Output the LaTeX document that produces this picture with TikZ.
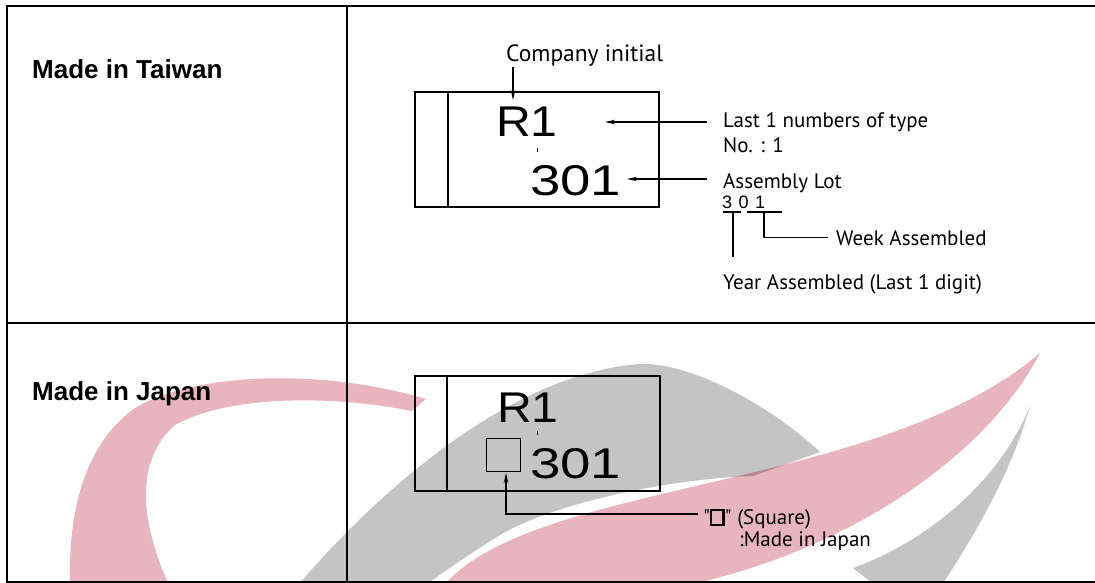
\documentclass[tikz,border=0pt]{standalone}
\usepackage{fontspec}
\setmainfont{Liberation Sans}
\newfontfamily\annfont{PT Sans}
\newfontfamily\chipfontR[FakeStretch=1.12]{Liberation Sans}
\newfontfamily\chipfontN[FakeStretch=1.27]{Liberation Sans}
\usetikzlibrary{arrows.meta}
\definecolor{wmpink}{HTML}{E8B4BE}
\definecolor{wmgray}{HTML}{C4C4C4}
\begin{document}
\begin{tikzpicture}[x=1pt,y=-1pt,
  tline/.style={line width=2pt},
  chipbox/.style={draw,line width=2pt,inner sep=0pt},
  ann/.style={font=\annfont\fontsize{21}{25}\selectfont,inner sep=0pt,anchor=base west},
  head/.style={font=\bfseries\fontsize{26}{30}\selectfont,inner sep=0pt,anchor=base west},
  chipR/.style={font=\chipfontR\fontsize{43}{50}\selectfont,inner sep=0pt,anchor=base west},
  chipN/.style={font=\chipfontN\fontsize{43}{50}\selectfont,inner sep=0pt,anchor=base west},
  conn/.style={line width=1.1pt},
  arr/.style={conn,-{Stealth[length=10pt,width=4.5pt]}},
]
\useasboundingbox (0,0) rectangle (1095,583);
% table
\draw[tline] (1095,5.7) -- (7,5.7) -- (7,582) -- (1095,582);
\draw[tline] (347,5.7) -- (347,582);
\draw[tline] (7,322.7) -- (1095,322.7);
\node[head] (tw) at (32,79) {Made in Taiwan};
\node[head] (jp) at (32,400) {Made in Japan};
% Taiwan chip
\node[chipbox,minimum width=244pt,minimum height=115pt] (chipA) at (537,149.5) {};
\draw[line width=2pt] ([xshift=34pt]chipA.north west) -- ([xshift=34pt]chipA.south west);
\node[chipR] (rA) at (496,137) {R1};
\node[chipN] (nA) at (530,195) {301};
\draw[line width=0.8pt] (537,148) -- (537,152);
\node[ann,font=\annfont\fontsize{23.5}{27}\selectfont] (ci) at (506,62) {Company initial};
\coordinate (ciTip) at (513,100);
\draw[arr] (ci.south -| ciTip) -- (ciTip);
\node[ann] (l1) at (723,128) {Last 1 numbers of type};
\node[ann] (l1b) at (723,153) {No. : 1};
\coordinate (a1s) at (707,122);
\coordinate (a1t) at (605,122);
\draw[arr] (a1s) -- (a1t);
\node[ann] (al) at (723,188) {Assembly Lot};
\coordinate (a2s) at (707,179);
\coordinate (a2t) at (627,179);
\draw[arr] (a2s) -- (a2t);
\node[inner sep=0pt,anchor=base west,font=\fontsize{18}{20}\selectfont] (lot) at (722,208) {3\hspace{6.5pt}0\hspace{6.5pt}1};
\draw[conn] (723,212) -- (741,212);
\draw[conn] (747,212) -- (782,212);
\node[ann] (wk) at (836,245) {Week Assembled};
\node[ann] (yr) at (723,289.5) {Year Assembled (Last 1 digit)};
\coordinate (yTop) at (733,212);
\coordinate (yBot) at (733,257);
\coordinate (wTop) at (764,212);
\draw[conn] (yTop) -- (yBot);
\draw[conn] (wTop) |- ([xshift=-8pt]wk.west);
% Japan chip
\node[chipbox,minimum width=245pt,minimum height=115pt] (chipB) at (537.5,433.5) {};
\draw[line width=2pt] ([xshift=33pt]chipB.north west) -- ([xshift=33pt]chipB.south west);
\node[chipR] (rB) at (497,422) {R1};
\node[chipN] (nB) at (530,478) {301};
\draw[line width=0.8pt] (537,431) -- (537,435);
\node[draw,line width=1.8pt,minimum width=34pt,minimum height=33pt,inner sep=0pt] (sq) at (503.5,455) {};
\node[ann] (sqlbl) at (703,524) {"\setlength{\fboxrule}{2.2pt}\setlength{\fboxsep}{0pt}\fbox{\rule{0pt}{13pt}\hspace{10pt}}" (Square)};
\node[ann] (mij) at (739,546) {:Made in Japan};
\coordinate (sqs) at (698,514);
\coordinate (sqTip) at (506,473);
\draw[arr] (sqs) -| (sqTip);
% watermark
\begin{scope}[blend mode=multiply]
\fill[wmpink] (426,399) .. controls (330,370) and (200,370) .. (135,408) .. controls (90,440) and (68,500) .. (70,583) -- (168,583) .. controls (140,520) and (135,460) .. (175,425) .. controls (230,395) and (330,395) .. (412,411) -- cycle;
\fill[wmgray] (300,583) .. controls (345,530) and (490,375) .. (640,364) .. controls (690,362) and (770,405) .. (820,452) -- (753,476) .. controls (680,478) and (560,500) .. (500,535) .. controls (460,560) and (440,575) .. (428,583) -- cycle;
\fill[wmpink] (446,583) .. controls (540,480) and (880,490) .. (1040,353) .. controls (990,450) and (860,545) .. (697,583) -- cycle;
\fill[wmgray] (1030,406) .. controls (1000,480) and (930,540) .. (853,568) -- (872,583) -- (943,583) .. controls (985,520) and (1015,460) .. (1030,406) -- cycle;
\end{scope}
\end{tikzpicture}
\end{document}
